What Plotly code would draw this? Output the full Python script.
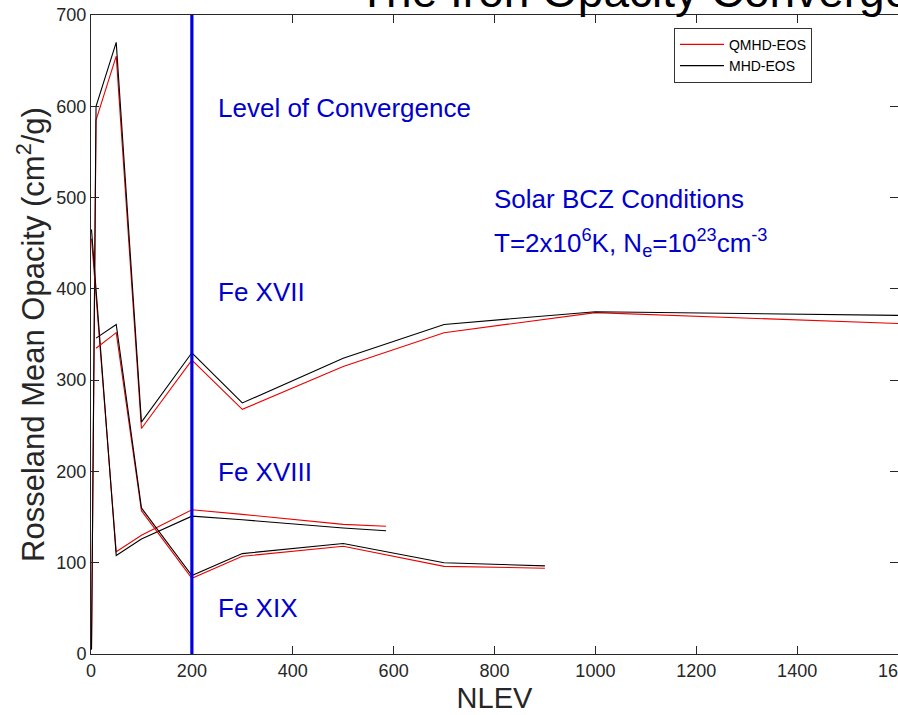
import plotly.graph_objects as go

# Rosseland mean opacity vs. number of levels (NLEV) for three iron ions,
# computed with the QMHD and MHD equations of state.
nlev_fe17 = [1, 10, 50, 100, 200, 300, 500, 700, 1000, 1600]
qmhd_fe17 = [5, 585, 655, 247, 322, 268, 315, 352, 374, 362]
mhd_fe17 = [5, 600, 670, 254, 330, 275, 324, 361, 375, 371]

nlev_fe18 = [1, 50, 100, 200, 300, 500, 585]
qmhd_fe18 = [455, 112, 130, 158, 153, 142, 140]
mhd_fe18 = [465, 108, 126, 151, 147, 138, 135]

nlev_fe19 = [10, 50, 100, 200, 300, 500, 700, 900]
qmhd_fe19 = [335, 352, 157, 83, 107, 118, 96, 94]
mhd_fe19 = [346, 361, 160, 86, 110, 121, 100, 96.5]

x_ticks = [0, 200, 400, 600, 800, 1000, 1200, 1400, 1600]
y_ticks = [0, 100, 200, 300, 400, 500, 600, 700]
nlev_converged = 200

RED = "rgb(235,0,0)"
BLACK = "rgb(0,0,0)"
BLUE = "rgb(0,0,225)"
TEXT_BLUE = "rgb(0,0,205)"
AXIS = "#262626"
FONT = "Liberation Sans, Arial, Helvetica, sans-serif"

fig = go.Figure()

series = [
    (nlev_fe17, qmhd_fe17, mhd_fe17),
    (nlev_fe18, qmhd_fe18, mhd_fe18),
    (nlev_fe19, qmhd_fe19, mhd_fe19),
]
for i, (x, q, m) in enumerate(series):
    fig.add_trace(go.Scatter(
        x=x, y=q, mode="lines", name="QMHD-EOS", legendgroup="qmhd",
        showlegend=(i == 0), line=dict(color=RED, width=1.1)))
    fig.add_trace(go.Scatter(
        x=x, y=m, mode="lines", name="MHD-EOS", legendgroup="mhd",
        showlegend=(i == 0), line=dict(color=BLACK, width=1.1)))

# Vertical marker at the convergence level
fig.add_shape(type="line", xref="x", yref="paper",
              x0=nlev_converged, x1=nlev_converged, y0=0, y1=1,
              line=dict(color=BLUE, width=3.2), layer="above")

labels = [
    (248, 598, "Level of Convergence"),
    (248, 397, "Fe XVII"),
    (248, 199, "Fe XVIII"),
    (248, 50, "Fe XIX"),
    (796, 498, "Solar BCZ Conditions"),
    (796, 450, "T=2x10<sup>6</sup>K, N<sub>e</sub>=10<sup>23</sup>cm<sup>-3</sup>"),
]
for x, y, t in labels:
    fig.add_annotation(x=x, y=y, xref="x", yref="y", text=t, showarrow=False,
                       xanchor="left", yanchor="middle",
                       font=dict(family=FONT, size=26, color=TEXT_BLUE))

# Figure title
fig.add_annotation(x=0.328, y=1.037, xref="paper", yref="paper",
                   text="The Iron Opacity Convergence", showarrow=False,
                   xanchor="left", yanchor="middle",
                   font=dict(family=FONT, size=46, color="black"))

axis_common = dict(
    showgrid=False, zeroline=False, showline=True, linecolor=AXIS, linewidth=1,
    mirror="ticks", ticks="inside", ticklen=8, tickcolor=AXIS, tickwidth=1,
    tickfont=dict(family=FONT, size=18, color=AXIS),
    ticklabeloverflow="allow", automargin=False,
)

fig.update_layout(
    width=898, height=715,
    margin=dict(l=91, r=0, t=15, b=61),
    paper_bgcolor="white", plot_bgcolor="white",
    font=dict(family=FONT),
    showlegend=True,
    legend=dict(x=0.8934, y=0.98, xanchor="right", yanchor="top",
                bgcolor="white", bordercolor="#333333", borderwidth=1,
                font=dict(family=FONT, size=14, color="black"),
                tracegroupgap=0, itemwidth=44),
    xaxis=dict(range=[0, 1600], tickvals=x_ticks,
               title=dict(text="NLEV", standoff=8,
                          font=dict(family=FONT, size=29, color=AXIS)),
               **axis_common),
    yaxis=dict(range=[0, 700], tickvals=y_ticks,
               title=dict(text="Rosseland Mean Opacity (cm<sup>2</sup>/g)",
                          standoff=2,
                          font=dict(family=FONT, size=31, color=AXIS)),
               **axis_common),
)

fig.write_html("out.html")
